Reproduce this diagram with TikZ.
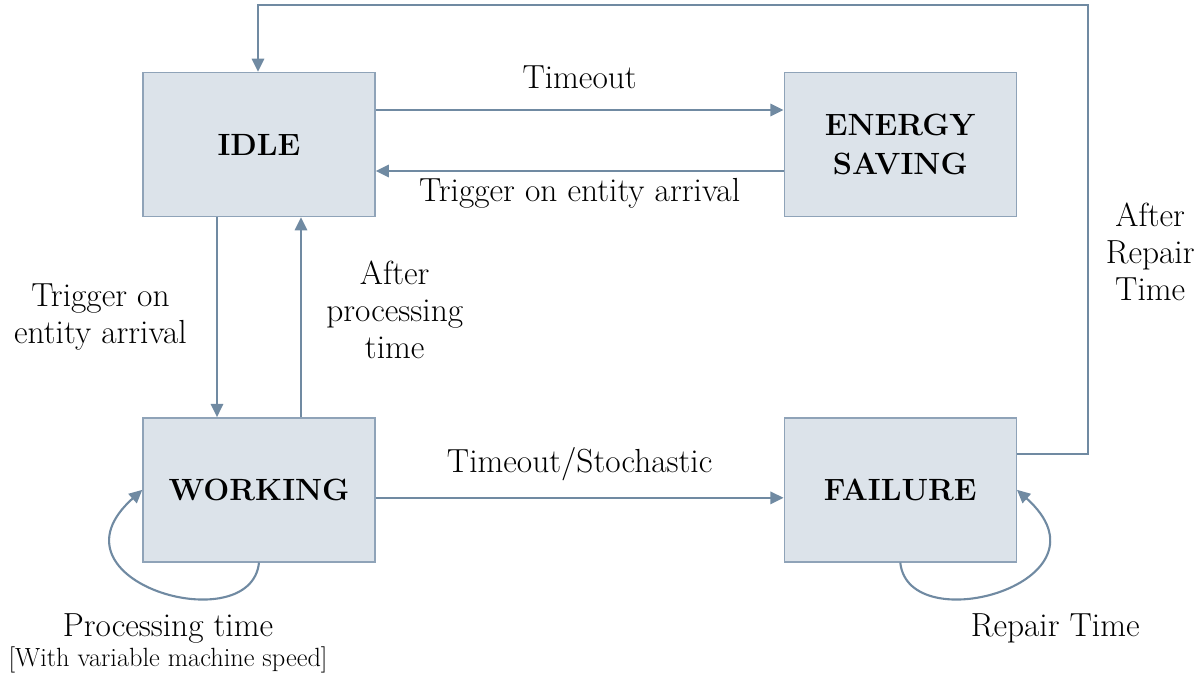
\documentclass[tikz,border=0pt]{standalone}
\usetikzlibrary{arrows.meta,positioning}
\definecolor{boxfill}{RGB}{220,227,234}
\definecolor{boxline}{RGB}{143,163,184}
\definecolor{flow}{RGB}{112,138,162}

\begin{document}
\begin{tikzpicture}[
    x=0.02cm, y=-0.02cm,
    >={Triangle[length=7.5pt,width=7pt]},
    every node/.style={align=center},
    state/.style={draw=boxline, fill=boxfill, line width=0.8pt, minimum width=4.64cm, minimum height=2.88cm, font=\fontsize{17.5}{22.5}\selectfont\bfseries},
    lbl/.style={font=\fontsize{19}{21}\selectfont, inner sep=1pt},
    flowline/.style={draw=flow, line width=1.2pt}
  ]
    \useasboundingbox (0,0) rectangle (1197,675);

    % states
    \node[state] (idle) at (259,144.5) {IDLE};
    \node[state,right=8.16cm of idle] (saving) {ENERGY\\SAVING};
    \node[state,below=4cm of idle] (working) {WORKING};
    \node[state,right=8.16cm of working] (failure) {FAILURE};

    % idle <-> energy saving
    \draw[flowline,->] ([yshift=0.69cm]idle.east) -- ([yshift=0.69cm]saving.west)
    node[lbl,midway,anchor=base,yshift=0.44cm] {Timeout};
    \draw[flowline,->] ([yshift=-0.53cm]saving.west) -- ([yshift=-0.53cm]idle.east)
    node[lbl,midway,anchor=base,yshift=-0.61cm] {Trigger on entity arrival};

    % idle <-> working
    \draw[flowline,->] ([xshift=-0.84cm]idle.south) -- ([xshift=-0.84cm]working.north)
    node[lbl,midway,left=0.55cm] {Trigger on\\entity arrival};
    \draw[flowline,->] ([xshift=0.84cm]working.north) -- ([xshift=0.84cm]idle.south)
    node[lbl,midway,right=0.45cm,yshift=0.14cm] {After\\processing\\time};

    % working -> failure
    \draw[flowline,->] ([yshift=-0.16cm]working.east) -- ([yshift=-0.16cm]failure.west)
    node[lbl,midway,anchor=base,yshift=0.5cm] {Timeout/Stochastic};

    % self loops
    \draw[flowline,->] (working.south) .. controls +(-8,79) and +(-103,92) .. (working.west)
    node[lbl,midway,below=0.42cm,xshift=0.18cm] {Processing time\\[-4pt]{\fontsize{15}{17}\selectfont [With variable machine speed]}};
    \draw[flowline,->] (failure.south) .. controls +(8,79) and +(103,92) .. (failure.east)
    node[lbl,midway,below=0.42cm,xshift=1.1cm] {Repair Time};

    % failure back to idle
    \coordinate (fb) at (1088,5);
    \draw[flowline,->] ([yshift=0.72cm]failure.east) -| node[lbl,pos=0.725,right=0.3cm] {After\\Repair\\Time} (fb)
    -| ([xshift=-0.02cm]idle.north);

  \end{tikzpicture}
\end{document}
